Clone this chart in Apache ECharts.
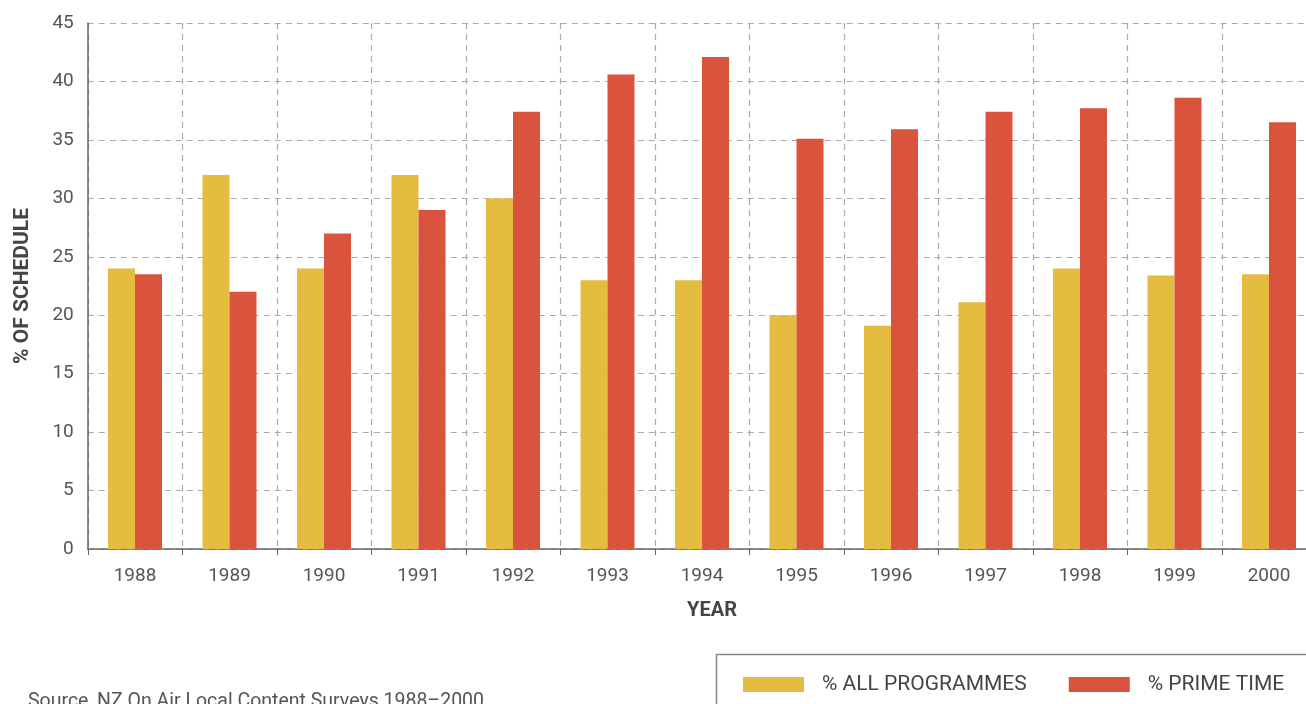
<!DOCTYPE html>
<html>
<head>
<meta charset="utf-8">
<script src="https://cdn.jsdelivr.net/npm/echarts@6/dist/echarts.min.js"></script>
<style>html,body{margin:0;padding:0;background:#fff}#c{width:1306px;height:704px}</style>
</head>
<body>
<div id="c"></div>
<script>
const years = ['1988','1989','1990','1991','1992','1993','1994','1995','1996','1997','1998','1999','2000'];
const allProgrammes = [24, 32, 24, 32, 30, 23, 23, 20, 19.1, 21.1, 24, 23.4, 23.5];
const primeTime = [23.5, 22, 27, 29, 37.4, 40.6, 42.1, 35.1, 35.9, 37.4, 37.7, 38.6, 36.5];
const seriesNames = ['% ALL PROGRAMMES', '% PRIME TIME'];
const sourceText = 'Source, NZ On Air Local Content Surveys 1988–2000';

const chart = echarts.init(document.getElementById('c'));
const font = 'Roboto, "DejaVu Sans", sans-serif';
chart.setOption({
  animation: false,
  textStyle: { fontFamily: font },
  grid: { left: 87.75, top: 23, width: 1228.5, height: 526, containLabel: false, outerBoundsMode: 'none' },
  legend: {
    left: 738, top: 669, itemWidth: 61, itemHeight: 15, itemGap: 42,
    icon: 'rect',
    textStyle: { fontSize: 21, color: '#444', fontFamily: font, padding: [0, 0, 0, 13] },
    data: seriesNames
  },
  xAxis: {
    type: 'category', data: years,
    name: 'YEAR', nameLocation: 'middle', nameGap: 52,
    nameTextStyle: { fontSize: 20, fontWeight: 'bold', color: '#444', fontFamily: font, padding: [0, 0, 0, 20] },
    axisLine: { lineStyle: { color: '#666', width: 1.5 } },
    axisTick: { show: true, length: 6, lineStyle: { color: '#666' } },
    axisLabel: { fontSize: 19, color: '#555', margin: 18, fontFamily: font },
    splitLine: { show: true, lineStyle: { color: '#aaa', type: [6, 5], width: 1.2 } }
  },
  yAxis: {
    type: 'value', min: 0, max: 45, interval: 5,
    name: '% OF SCHEDULE', nameLocation: 'middle', nameGap: 55, nameRotate: 90,
    nameTextStyle: { fontSize: 21, fontWeight: 'bold', color: '#444', fontFamily: font },
    axisLine: { show: true, lineStyle: { color: '#666', width: 1.5 } },
    axisTick: { show: false },
    axisLabel: { fontSize: 19, color: '#555', margin: 14, fontFamily: font },
    splitLine: { show: true, lineStyle: { color: '#aaa', type: [6, 5], width: 1.2 } }
  },
  series: [
    { name: seriesNames[0], type: 'bar', data: allProgrammes, barWidth: 27, barGap: '0%',
      itemStyle: { color: '#E3BC40' } },
    { name: seriesNames[1], type: 'bar', data: primeTime, barWidth: 27,
      itemStyle: { color: '#D9533D' } }
  ],
  graphic: [
    { type: 'polyline', silent: true,
      shape: { points: [[716.5, 720], [716.5, 654.5], [1400, 654.5]] },
      style: { fill: 'none', stroke: '#888', lineWidth: 1.5 } },
    { type: 'text', left: 28, top: 692,
      style: { text: sourceText, fontSize: 19.5, fill: '#555', fontFamily: font } }
  ]
});
</script>
</body>
</html>
